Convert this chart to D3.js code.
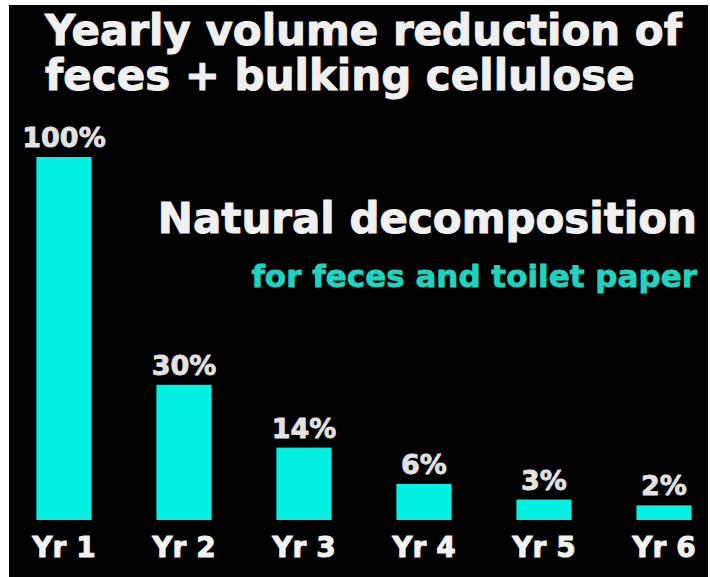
<!DOCTYPE html>
<html>
<head>
<meta charset="utf-8">
<script src="https://cdn.jsdelivr.net/npm/d3@7"></script>
<style>
  html, body { margin: 0; padding: 0; background: #ffffff; }
  svg text { font-family: 'DejaVu Sans', sans-serif; font-weight: bold; }
</style>
</head>
<body>
<div class="chart-wrapper"></div>
<script>
const years = ['Yr 1', 'Yr 2', 'Yr 3', 'Yr 4', 'Yr 5', 'Yr 6'];
const volumes = [100, 30, 14, 6, 3, 2];
const valueLabels = ['100%', '30%', '14%', '6%', '3%', '2%'];
const titleLines = ['Yearly volume reduction of', 'feces + bulking cellulose'];
const subTitle = 'Natural decomposition';
const subNote = 'for feces and toilet paper';

const width = 710;
const height = 577;

const data = years.map((y, i) => ({year: y, value: volumes[i], label: valueLabels[i]}));

let svg = d3.select('.chart-wrapper').append('svg')
.attr('width', width)
.attr('height', height)

// black panel inside the thin white frame
svg.append('rect')
.attr('x', 9)
.attr('y', 5)
.attr('width', 699)
.attr('height', height - 5)
.attr('fill', '#000000')

// bars in the original are drawn compressed, not linear
let x = d3.scaleBand()
.domain(years)
.range([4, 724])
.paddingInner(0.54)
.paddingOuter(0.27)

let y = d3.scalePow()
.exponent(0.82)
.domain([0, 100])
.range([520, 157])

const heavy = (sel, color, w) => sel
.attr('fill', color)
.attr('stroke', color)
.attr('stroke-width', w)
.attr('stroke-linejoin', 'round')

svg.append('g')
.selectAll('text')
.data(titleLines)
.enter()
.append('text')
.attr('x', 45)
.attr('y', (d, i) => 45 + i * 45)
.attr('font-size', 42)
.call(heavy, '#f0f0f0', 1)
.text(d => d)

svg.append('text')
.attr('x', 697)
.attr('y', 233)
.attr('text-anchor', 'end')
.attr('font-size', 42)
.call(heavy, '#f0f0f0', 1)
.text(subTitle)

svg.append('text')
.attr('x', 697)
.attr('y', 287)
.attr('text-anchor', 'end')
.attr('font-size', 31)
.call(heavy, '#22d2c0', 0.8)
.text(subNote)

let bars = svg.append('g')

bars.selectAll('rect')
.data(data)
.enter()
.append('rect')
.attr('x', d => x(d.year))
.attr('y', d => y(d.value))
.attr('width', x.bandwidth())
.attr('height', d => y(0) - y(d.value))
.attr('fill', '#00f0e2')

bars.selectAll('.value')
.data(data)
.enter()
.append('text')
.attr('class', 'value')
.attr('x', d => x(d.year) + x.bandwidth() / 2)
.attr('y', d => y(d.value) - 10)
.attr('text-anchor', 'middle')
.attr('font-size', 27)
.call(heavy, '#e2e2e2', 0.8)
.text(d => d.label)

// category labels, axis line hidden
let xAxis = svg.append('g')
.attr('transform', 'translate(0,' + y(0) + ')')
.call(d3.axisBottom(x).tickSize(0).tickPadding(10))

xAxis.select('.domain').remove()

xAxis.selectAll('text')
.attr('font-size', 28)
.attr('font-family', "'DejaVu Sans', sans-serif")
.attr('font-weight', 'bold')
.call(heavy, '#f2f2f2', 1)
.attr('dy', '0.95em')
</script>
</body>
</html>
